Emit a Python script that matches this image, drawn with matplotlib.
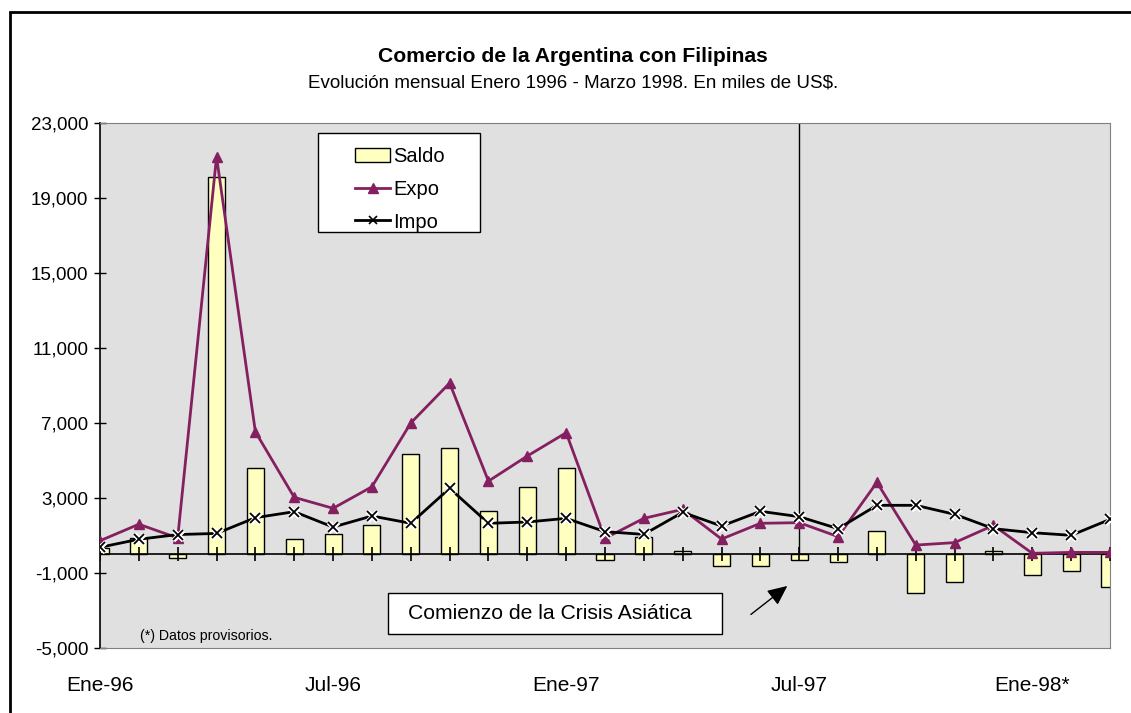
import numpy as np
import matplotlib.pyplot as plt
from matplotlib.lines import Line2D
from matplotlib.patches import Patch, Rectangle

plt.rcParams["font.family"] = ["Liberation Sans", "DejaVu Sans"]

# ---------------------------------------------------------------
# Datos (miles de US$), Enero 1996 - Marzo 1998
# ---------------------------------------------------------------
meses = ["Ene-96", "Feb-96", "Mar-96", "Abr-96", "May-96", "Jun-96",
         "Jul-96", "Ago-96", "Sep-96", "Oct-96", "Nov-96", "Dic-96",
         "Ene-97", "Feb-97", "Mar-97", "Abr-97", "May-97", "Jun-97",
         "Jul-97", "Ago-97", "Sep-97", "Oct-97", "Nov-97", "Dic-97",
         "Ene-98*", "Feb-98", "Mar-98"]
expo = [720, 1600, 870, 21200, 6530, 3035, 2450, 3600, 7000, 9130,
        3900, 5240, 6480, 850, 1915, 2395, 810, 1650, 1685, 940,
        3835, 490, 620, 1540, 50, 100, 100]
impo = [370, 800, 1050, 1110, 1950, 2270, 1450, 2040, 1650, 3515,
        1650, 1720, 1915, 1205, 1060, 2235, 1505, 2290, 2005, 1365,
        2610, 2610, 2130, 1365, 1150, 1010, 1860]
saldo = [350, 850, -200, 20100, 4580, 830, 1100, 1580, 5350, 5690,
         2325, 3570, 4580, -300, 900, 200, -650, -620, -280, -400,
         1260, -2050, -1500, 155, -1100, -880, -1770]
etiquetas = {0: "Ene-96", 6: "Jul-96", 12: "Ene-97", 18: "Jul-97", 24: "Ene-98*"}
mes_crisis = 18

x = np.arange(len(meses))

fig = plt.figure(figsize=(11.31, 7.13), dpi=100)
ax = fig.add_axes([100 / 1131, 1 - 648 / 713, 1010 / 1131, 525 / 713])
ax.set_facecolor("#E0E0E0")

# marco exterior
fig.patches.append(Rectangle((10 / 1131, -0.05), 1.2, 1 - 12 / 713 + 0.05,
                             transform=fig.transFigure, fill=False,
                             edgecolor="black", linewidth=2))

fig.text(0.5066, 1 - 57 / 713, "Comercio de la Argentina con Filipinas",
         ha="center", va="center", fontsize=15.2, fontweight="bold")
fig.text(0.5066, 1 - 83 / 713,
         "Evolución mensual Enero 1996 - Marzo 1998. En miles de US$.",
         ha="center", va="center", fontsize=13.5)

# barras
ax.bar(x, saldo, width=0.44, color="#FFFFC0", edgecolor="black",
       linewidth=1, zorder=2)

ax.axhline(0, color="black", linewidth=1.2, zorder=3)
ax.plot(x, np.zeros(len(x)), ls="none", marker="|", ms=9.5, mew=1.2,
        color="black", zorder=3)

ax.vlines(mes_crisis, 0, 23000, color="black", linewidth=1, zorder=1.5)

# lineas
purple = "#84205F"
ax.plot(x, expo, color=purple, lw=2, marker="^", ms=7, zorder=4)
ax.plot(x, impo, color="black", lw=2, zorder=5)
ax.plot(x, impo, ls="none", marker="x", ms=7, mew=3.5, color="white", zorder=6)
ax.plot(x, impo, ls="none", marker="x", ms=6.5, mew=1.3, color="black", zorder=7)

ax.set_xlim(0, len(x) - 1)
ax.set_ylim(-5000, 23000)
ax.set_yticks(np.arange(-5000, 23001, 4000))
ax.set_yticklabels([f"{v:,}" for v in range(-5000, 23001, 4000)])
ax.tick_params(axis="y", direction="inout", length=9, width=1, pad=4,
               labelsize=13.5)

ax.set_xticks(list(etiquetas.keys()))
ax.set_xticklabels(list(etiquetas.values()))
ax.tick_params(axis="x", length=0, pad=20, labelsize=15)

for s in ["top", "right", "bottom"]:
    ax.spines[s].set_color("#808080")
ax.spines["left"].set_color("black")
ax.spines["left"].set_linewidth(1.2)

# leyenda (caja dibujada aparte)
ax.add_patch(Rectangle((0.2158, 0.7924), 0.1604, 0.1886,
                       transform=ax.transAxes, facecolor="white",
                       edgecolor="black", linewidth=1, zorder=9))
handles = [Patch(facecolor="#FFFFC0", edgecolor="black"),
           Line2D([], [], color=purple, lw=2, marker="^", ms=7),
           Line2D([], [], color="black", lw=2, marker="x", ms=6, mew=1.2)]
leg = ax.legend(handles, ["Saldo", "Expo", "Impo"], loc="upper left",
                bbox_to_anchor=(0.2525, 0.954), fontsize=14.5, frameon=False,
                handlelength=1.75, handletextpad=0.15, borderpad=0,
                borderaxespad=0, labelspacing=0.68)
leg.set_zorder(10)

ax.text(0.04, 0.01, "(*) Datos provisorios.", transform=ax.transAxes,
        fontsize=10.2, ha="left", va="bottom")

ax.add_patch(Rectangle((0.2851, 0.0267), 0.3307, 0.0781,
                       transform=ax.transAxes, facecolor="white",
                       edgecolor="black", linewidth=1, zorder=9))
ax.text(0.445, 0.065, "Comienzo de la Crisis Asiática",
        transform=ax.transAxes, fontsize=15.2, ha="center", va="center",
        zorder=10)
ax.annotate("", xy=(17.75, -1600), xytext=(16.7, -3300),
            arrowprops=dict(arrowstyle="-|>,head_length=1.2,head_width=0.55",
                            color="black", lw=1))

fig.savefig("out.png", dpi=100)
